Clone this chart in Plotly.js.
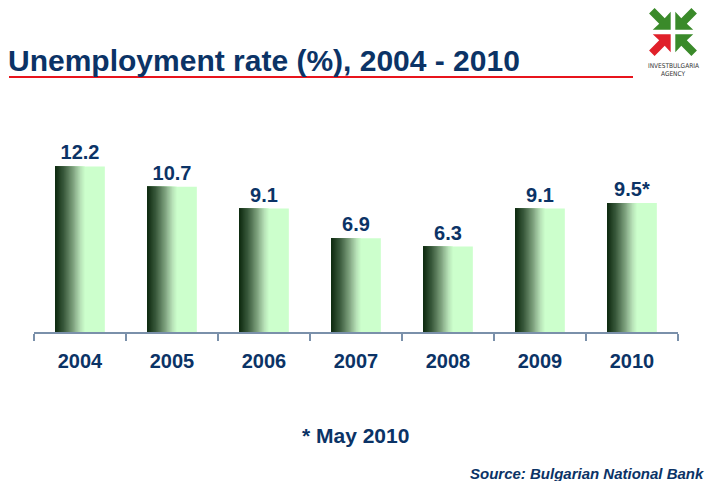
<!DOCTYPE html>
<html>
<head>
<meta charset="utf-8">
<script src="https://cdn.plot.ly/plotly-3.0.1.min.js"></script>
<style>
html,body{margin:0;padding:0;background:#fff;}
#chart{width:707px;height:481px;}
</style>
</head>
<body>
<div id="chart"></div>
<script>
// ---- data ----
const categories = ['2004', '2005', '2006', '2007', '2008', '2009', '2010'];
const rates = [12.2, 10.7, 9.1, 6.9, 6.3, 9.1, 9.5];
const valueLabels = ['12.2', '10.7', '9.1', '6.9', '6.3', '9.1', '9.5*'];
const titleText = 'Unemployment rate (%), 2004 - 2010';
const footnoteText = '* May 2010';
const sourceText = 'Source: Bulgarian National Bank';
const logoLines = ['INVESTBULGARIA', 'AGENCY'];

// ---- layout geometry ----
const W = 707, H = 481;
const M = {l: 34, r: 29, t: 142, b: 149};
const plotW = W - M.l - M.r, plotH = H - M.t - M.b;
const px = x => (x - M.l) / plotW;
const py = y => (H - M.b - y) / plotH;

const navy = '#0b3366';
const FONT = 'Liberation Sans, Arial, sans-serif';

// ---- gradient bars (overlaid strips, left dark -> right light) ----
const BAR_W = 0.54;
const stops = [
  [0.00, [12, 40, 14]],
  [0.18, [60, 92, 62]],
  [0.36, [125, 160, 125]],
  [0.50, [180, 222, 180]],
  [0.60, [204, 255, 204]],
  [1.00, [204, 255, 204]]
];
function colorAt(p) {
  for (let i = 1; i < stops.length; i++) {
    if (p <= stops[i][0]) {
      const [p0, c0] = stops[i - 1], [p1, c1] = stops[i];
      const t = (p - p0) / (p1 - p0);
      const c = c0.map((v, k) => Math.round(v + (c1[k] - v) * t));
      return 'rgb(' + c.join(',') + ')';
    }
  }
  return 'rgb(204,255,204)';
}
const traces = [];
const N = 24;
// value labels carried by a transparent bar with a wider transparent outline (adds padding)
traces.push({
  type: 'bar', x: categories, y: rates, width: BAR_W, offset: -BAR_W / 2,
  marker: {color: 'rgba(0,0,0,0)', line: {width: 6, color: 'rgba(0,0,0,0)'}},
  hoverinfo: 'skip', showlegend: false,
  text: valueLabels, textposition: 'outside', cliponaxis: false, constraintext: 'none',
  textfont: {family: FONT, size: 20, color: navy, weight: 'bold'}
});
// full light bar
traces.push({
  type: 'bar', x: categories, y: rates, width: BAR_W, offset: -BAR_W / 2,
  marker: {color: colorAt(1), line: {width: 0}}, hoverinfo: 'skip', showlegend: false
});
for (let i = N; i >= 1; i--) {
  const frac = 0.6 * i / N;  // strip right edge as fraction of bar width
  traces.push({
    type: 'bar', x: categories, y: rates, width: BAR_W * frac, offset: -BAR_W / 2,
    marker: {color: colorAt(frac - 0.6 / N / 2), line: {width: 0}},
    hoverinfo: 'skip', showlegend: false
  });
}

// ---- annotations ----
const annotations = [];
annotations.push({
  xref: 'paper', yref: 'paper', x: px(6), y: py(60), xanchor: 'left', yanchor: 'middle',
  text: '<b>' + titleText + '</b>', showarrow: false,
  font: {family: FONT, size: 30, color: navy}
});
annotations.push({
  xref: 'paper', yref: 'paper', x: px(355), y: py(435), xanchor: 'center', yanchor: 'middle',
  text: '<b>' + footnoteText + '</b>', showarrow: false,
  font: {family: FONT, size: 21, color: navy}
});
annotations.push({
  xref: 'paper', yref: 'paper', x: px(706), y: py(473), xanchor: 'right', yanchor: 'middle',
  text: '<b><i>' + sourceText + '</i></b>', showarrow: false,
  font: {family: FONT, size: 15, color: navy}
});
annotations.push({
  xref: 'paper', yref: 'paper', x: px(673), y: py(66), xanchor: 'center', yanchor: 'middle',
  text: logoLines[0], showarrow: false,
  font: {family: 'DejaVu Sans Condensed, Liberation Sans Narrow, sans-serif', size: 6.5, color: '#333'}
});
annotations.push({
  xref: 'paper', yref: 'paper', x: px(673), y: py(74), xanchor: 'center', yanchor: 'middle',
  text: logoLines[1], showarrow: false,
  font: {family: 'DejaVu Sans Condensed, Liberation Sans Narrow, sans-serif', size: 6.5, color: '#333'}
});

// ---- shapes: red rule and logo arrows ----
const shapes = [{
  type: 'line', xref: 'paper', yref: 'paper',
  x0: px(9), x1: px(633), y0: py(77), y1: py(77),
  line: {color: '#e8141c', width: 2}
}];
// arrow pointing from a corner towards the logo centre (unit coordinates, top-left corner)
const arrow = [[-0.1, -0.1], [-0.1, -0.88], [-0.36, -0.6], [-0.8, -1.04], [-1.04, -0.8], [-0.6, -0.36], [-0.88, -0.1]];
const LC = {x: 673, y: 32}, LS = 23;
[['#e0202a', -1, 1], ['#3a8a2a', -1, -1], ['#3a8a2a', 1, -1], ['#3a8a2a', 1, 1]].forEach(([col, sx, sy]) => {
  const path = arrow.map(([u, v], k) => {
    const X = LC.x - u * sx * LS;
    const Y = LC.y - v * sy * LS;
    return (k ? 'L' : 'M') + px(X).toFixed(5) + ',' + py(Y).toFixed(5);
  }).join(' ') + ' Z';
  shapes.push({type: 'path', xref: 'paper', yref: 'paper', path: path,
    fillcolor: col, line: {width: 0}});
});

const layout = {
  width: W, height: H,
  margin: M,
  paper_bgcolor: '#fff', plot_bgcolor: '#fff',
  barmode: 'overlay',
  bargap: 0.46,
  xaxis: {
    type: 'category', showline: true, linecolor: '#7a90aa', linewidth: 2,
    ticks: 'outside', tickson: 'boundaries', ticklen: 7, tickwidth: 1.5, tickcolor: '#7a90aa',
    showgrid: false, zeroline: false, ticklabelstandoff: 10,
    tickfont: {family: FONT, size: 20, color: navy, weight: 'bold'},
    range: [-0.5, 6.5], fixedrange: true
  },
  yaxis: {visible: false, range: [0, 14], showgrid: false, zeroline: false, fixedrange: true},
  annotations: annotations,
  shapes: shapes,
  showlegend: false
};

Plotly.newPlot('chart', traces, layout, {displayModeBar: false, staticPlot: true});
</script>
</body>
</html>
